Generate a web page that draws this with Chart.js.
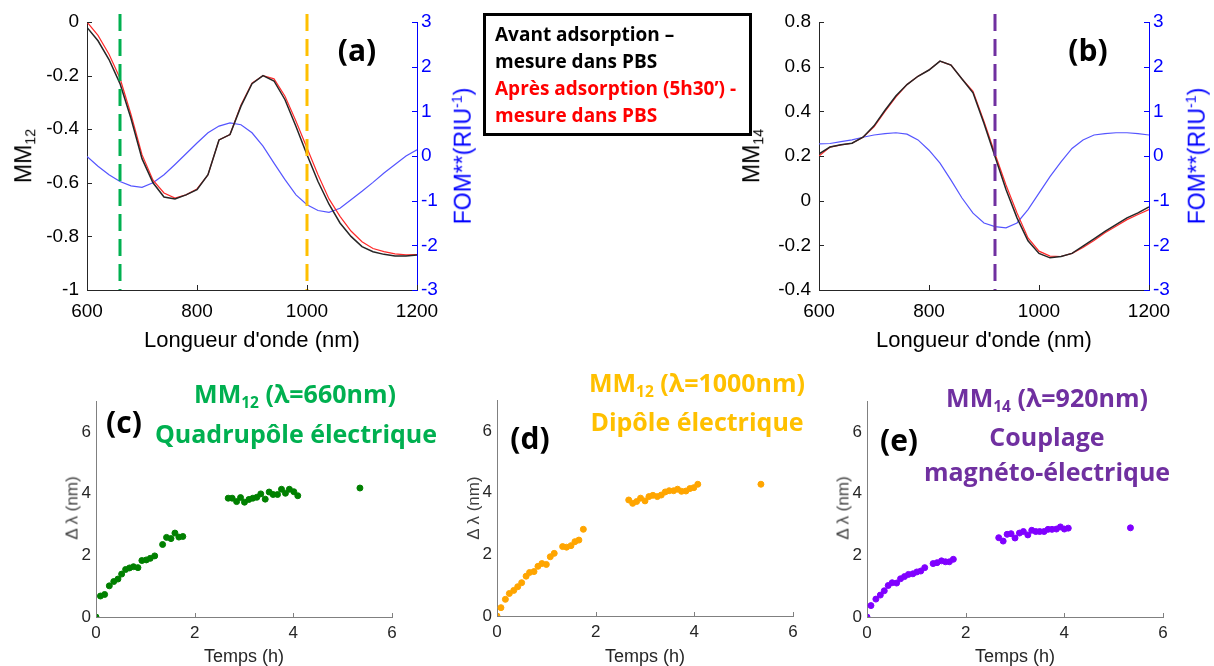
<!DOCTYPE html>
<html>
<head>
<meta charset="utf-8">
<script src="https://cdn.jsdelivr.net/npm/chart.js@4.4.1/dist/chart.umd.min.js"></script>
<style>
body { margin: 0; width: 1214px; height: 666px; background: #fff; position: relative; overflow: hidden; font-family: "Liberation Sans", Arial, sans-serif; }
canvas { position: absolute; }
.t { position: absolute; white-space: nowrap; line-height: 1; }
.rot { transform: translate(-50%, -50%) rotate(-90deg); }
.ctr { transform: translate(-50%, -50%); }
.bold { font-family: "Open Sans", Lato, sans-serif; font-weight: bold; }
sub { font-size: 62%; vertical-align: -0.3em; }
sup { font-size: 62%; vertical-align: 0.6em; }
#legend { position: absolute; left: 483px; top: 13px; width: 263px; height: 117px; border: 3px solid #000; }
#legend div { position: absolute; left: 9px; font-size: 19px; white-space: nowrap; line-height: 1; }
</style>
</head>
<body>

<canvas id="chartA" width="500" height="360" style="left:0;top:0"></canvas>
<canvas id="chartB" width="500" height="360" style="left:732px;top:0"></canvas>
<canvas id="chartC" width="370" height="296" style="left:40px;top:370px"></canvas>
<canvas id="chartD" width="370" height="296" style="left:441px;top:369px"></canvas>
<canvas id="chartE" width="370" height="296" style="left:811px;top:370px"></canvas>

<!-- titres des axes (a) et (b) -->
<div class="t rot" style="left:25px;top:156px;font-size:23px">MM<sub>12</sub></div>
<div class="t ctr" style="left:252px;top:340px;font-size:22px">Longueur d'onde (nm)</div>
<div class="t rot" style="left:462px;top:156px;font-size:23px;color:#0000ff">FOM**(RIU<sup>-1</sup>)</div>
<div class="t rot" style="left:753px;top:156px;font-size:23px">MM<sub>14</sub></div>
<div class="t ctr" style="left:984px;top:340px;font-size:22px">Longueur d'onde (nm)</div>
<div class="t rot" style="left:1196px;top:156px;font-size:23px;color:#0000ff">FOM**(RIU<sup>-1</sup>)</div>
<div class="t ctr bold" style="left:357px;top:50px;font-size:30px">(a)</div>
<div class="t ctr bold" style="left:1088px;top:50px;font-size:30px">(b)</div>

<div id="legend" class="bold">
  <div style="top:9px">Avant adsorption –</div>
  <div style="top:36px">mesure dans PBS</div>
  <div style="top:63px;color:#ff0000">Après adsorption (5h30’) -</div>
  <div style="top:90px;color:#ff0000">mesure dans PBS</div>
</div>

<!-- titres des panneaux (c) (d) (e) -->
<div class="t ctr bold" style="left:295px;top:396px;font-size:25px;color:#00b050">MM<sub>12</sub> (λ=660nm)</div>
<div class="t ctr bold" style="left:296px;top:433px;font-size:25px;color:#00b050">Quadrupôle électrique</div>
<div class="t ctr bold" style="left:124px;top:422px;font-size:30px">(c)</div>
<div class="t ctr bold" style="left:697px;top:385px;font-size:25px;color:#ffc000">MM<sub>12</sub> (λ=1000nm)</div>
<div class="t ctr bold" style="left:697px;top:421px;font-size:25px;color:#ffc000">Dipôle électrique</div>
<div class="t ctr bold" style="left:530px;top:438px;font-size:30px">(d)</div>
<div class="t ctr bold" style="left:1047px;top:400px;font-size:25px;color:#7030a0">MM<sub>14</sub> (λ=920nm)</div>
<div class="t ctr bold" style="left:1047px;top:436px;font-size:25px;color:#7030a0">Couplage</div>
<div class="t ctr bold" style="left:1047px;top:471px;font-size:25px;color:#7030a0">magnéto-électrique</div>
<div class="t ctr bold" style="left:899px;top:440px;font-size:30px">(e)</div>

<div class="t rot" style="left:72px;top:508px;font-size:17px;color:#404040">Δ λ (nm)</div>
<div class="t ctr" style="left:244px;top:656px;font-size:18px;color:#262626">Temps (h)</div>
<div class="t rot" style="left:473px;top:508px;font-size:17px;color:#404040">Δ λ (nm)</div>
<div class="t ctr" style="left:645px;top:656px;font-size:18px;color:#262626">Temps (h)</div>
<div class="t rot" style="left:843px;top:508px;font-size:17px;color:#404040">Δ λ (nm)</div>
<div class="t ctr" style="left:1015px;top:656px;font-size:18px;color:#262626">Temps (h)</div>

<script>
// Longueurs d'onde (nm)
const wavelengths = [600,620,640,660,680,700,720,740,760,780,800,820,840,860,880,900,920,940,960,980,1000,1020,1040,1060,1080,1100,1120,1140,1160,1180,1200];

// (a) MM12 et FOM
const mm12Avant = [-0.02,-0.07,-0.14,-0.23,-0.36,-0.51,-0.60,-0.653,-0.66,-0.645,-0.626,-0.57,-0.44,-0.42,-0.314,-0.23,-0.20,-0.22,-0.29,-0.39,-0.495,-0.595,-0.68,-0.75,-0.80,-0.838,-0.857,-0.867,-0.873,-0.873,-0.869];
const mm12Apres = [0.0,-0.05,-0.12,-0.21,-0.345,-0.495,-0.59,-0.638,-0.657,-0.645,-0.623,-0.57,-0.44,-0.42,-0.31,-0.228,-0.20,-0.212,-0.277,-0.37,-0.47,-0.57,-0.66,-0.725,-0.78,-0.82,-0.845,-0.857,-0.865,-0.869,-0.868];
const fom12 = [-0.01,-0.23,-0.42,-0.57,-0.67,-0.70,-0.60,-0.42,-0.19,0.05,0.29,0.52,0.67,0.74,0.70,0.52,0.22,-0.16,-0.53,-0.87,-1.09,-1.22,-1.26,-1.17,-0.98,-0.79,-0.59,-0.38,-0.19,0.0,0.14];

// (b) MM14 et FOM
const mm14Avant = [0.21,0.24,0.25,0.257,0.284,0.335,0.405,0.47,0.52,0.557,0.585,0.625,0.607,0.545,0.483,0.346,0.198,0.05,-0.077,-0.18,-0.236,-0.256,-0.25,-0.236,-0.204,-0.171,-0.137,-0.107,-0.077,-0.055,-0.028];
const mm14Apres = [0.20,0.24,0.25,0.257,0.284,0.33,0.40,0.465,0.52,0.557,0.585,0.625,0.607,0.545,0.49,0.355,0.21,0.07,-0.055,-0.167,-0.226,-0.248,-0.25,-0.236,-0.21,-0.178,-0.144,-0.115,-0.085,-0.062,-0.04];
const fom14 = [0.27,0.28,0.32,0.36,0.42,0.47,0.50,0.52,0.49,0.36,0.13,-0.16,-0.54,-0.94,-1.28,-1.50,-1.58,-1.61,-1.50,-1.20,-0.83,-0.46,-0.13,0.17,0.36,0.47,0.50,0.52,0.52,0.50,0.47];

// (c) MM12 à 660 nm
const tempsC = [0,0.09,0.175,0.27,0.36,0.445,0.52,0.6,0.68,0.76,0.85,0.93,1.02,1.1,1.19,1.35,1.43,1.52,1.6,1.68,1.76,2.68,2.76,2.85,2.93,3.01,3.1,3.18,3.26,3.34,3.43,3.51,3.59,3.68,3.76,3.84,3.92,4.01,4.09,5.35];
const shiftC = [0,0.68,0.73,1.01,1.15,1.23,1.39,1.54,1.59,1.63,1.6,1.83,1.85,1.9,1.98,2.35,2.58,2.54,2.72,2.59,2.61,3.85,3.85,3.74,3.87,3.72,3.81,3.85,3.88,3.99,3.82,4.05,3.97,3.97,4.14,4.01,4.14,4.06,3.93,4.18];

// (d) MM12 à 1000 nm
const tempsD = [0,0.08,0.17,0.25,0.34,0.42,0.5,0.59,0.66,0.75,0.83,0.91,1.0,1.08,1.16,1.33,1.41,1.5,1.58,1.66,1.75,2.67,2.75,2.83,2.91,3.0,3.08,3.16,3.25,3.33,3.41,3.49,3.58,3.66,3.74,3.83,3.91,3.99,4.07,5.35];
const shiftD = [0,0.27,0.54,0.73,0.83,0.95,1.08,1.29,1.41,1.44,1.61,1.7,1.67,1.92,2.03,2.25,2.23,2.28,2.41,2.46,2.81,3.76,3.65,3.71,3.82,3.73,3.87,3.91,3.87,3.92,4.02,4.06,4.06,4.11,4.04,4.05,4.13,4.16,4.27,4.27];

// (e) MM14 à 920 nm
const tempsE = [0,0.08,0.18,0.27,0.35,0.43,0.51,0.6,0.68,0.76,0.84,0.93,1.01,1.09,1.17,1.34,1.42,1.51,1.59,1.67,1.75,2.67,2.76,2.84,2.92,3.0,3.09,3.17,3.26,3.34,3.42,3.5,3.59,3.67,3.75,3.84,3.92,4.0,4.08,5.34];
const shiftE = [0,0.37,0.58,0.71,0.85,1.02,1.11,1.1,1.24,1.31,1.38,1.4,1.46,1.49,1.6,1.73,1.76,1.82,1.79,1.79,1.87,2.57,2.46,2.68,2.7,2.56,2.72,2.77,2.66,2.81,2.77,2.77,2.77,2.84,2.84,2.85,2.92,2.85,2.88,2.89];

const xy = (xs, ys) => xs.map((x, i) => ({ x: x, y: ys[i] }));

// petits traits de graduation vers l'intérieur
const inTicks = {
  id: 'inTicks',
  afterDraw(chart, args, opts) {
    const ctx = chart.ctx;
    (opts.axes || []).forEach(a => {
      const s = chart.scales[a.id];
      ctx.save();
      ctx.strokeStyle = a.color;
      ctx.lineWidth = 1;
      s.ticks.forEach(t => {
        const p = Math.round(s.getPixelForValue(t.value)) + 0.5;
        ctx.beginPath();
        if (a.side === 'bottom') { ctx.moveTo(p, s.top); ctx.lineTo(p, s.top - a.len); }
        else if (a.side === 'left') { ctx.moveTo(s.right, p); ctx.lineTo(s.right + a.len, p); }
        else { ctx.moveTo(s.left, p); ctx.lineTo(s.left - a.len, p); }
        ctx.stroke();
      });
      ctx.restore();
    });
  }
};

// lignes verticales en tirets aux longueurs d'onde étudiées
const markers = {
  id: 'markers',
  afterDatasetsDraw(chart, args, opts) {
    const ctx = chart.ctx;
    const ca = chart.chartArea;
    (opts.lines || []).forEach(m => {
      const px = chart.scales.x.getPixelForValue(m.value);
      ctx.save();
      ctx.strokeStyle = m.color;
      ctx.lineWidth = 3;
      ctx.setLineDash([17, 8]);
      ctx.beginPath();
      ctx.moveTo(px, ca.top - 8);
      ctx.lineTo(px, ca.bottom);
      ctx.stroke();
      ctx.restore();
    });
  }
};

function spectrumChart(id, ymin, ymax, avant, apres, fom, lines) {
  return new Chart(document.getElementById(id), {
    type: 'line',
    data: {
      datasets: [
        { data: xy(wavelengths, avant), borderColor: '#262626', borderWidth: 1.5, yAxisID: 'y' },
        { data: xy(wavelengths, apres), borderColor: '#ff2a2a', borderWidth: 1.2, yAxisID: 'y' },
        { data: xy(wavelengths, fom), borderColor: '#5555ff', borderWidth: 1.2, yAxisID: 'y2' }
      ]
    },
    options: {
      responsive: false,
      animation: false,
      layout: { padding: { top: 22, left: 0, right: 0, bottom: 0 } },
      elements: { point: { radius: 0 }, line: { tension: 0 } },
      plugins: {
        legend: { display: false },
        tooltip: { enabled: false },
        markers: { lines: lines },
        inTicks: { axes: [
          { id: 'x', side: 'bottom', len: 5, color: '#262626' },
          { id: 'y', side: 'left', len: 5, color: '#262626' },
          { id: 'y2', side: 'right', len: 5, color: '#0000ff' }
        ] }
      },
      scales: {
        x: {
          type: 'linear', min: 600, max: 1200,
          ticks: { stepSize: 200, color: '#000', font: { size: 19 }, padding: 10, maxRotation: 0,
            callback: v => String(v) },
          grid: { display: false, drawTicks: false },
          border: { color: '#262626', width: 1 },
          afterFit: s => { s.height = 70; }
        },
        y: {
          position: 'left', min: ymin, max: ymax,
          ticks: { stepSize: 0.2, color: '#000', font: { size: 19 }, padding: 8,
            callback: v => String(Math.round(v * 10) / 10) },
          grid: { display: false, drawTicks: false },
          border: { color: '#262626', width: 1 },
          afterFit: s => { s.width = 87; }
        },
        y2: {
          position: 'right', min: -3, max: 3,
          ticks: { stepSize: 1, color: '#0000ff', font: { size: 19 }, padding: 4 },
          grid: { display: false, drawTicks: false },
          border: { color: '#0000ff', width: 1 },
          afterFit: s => { s.width = 83; }
        }
      }
    },
    plugins: [markers, inTicks]
  });
}

function shiftChart(id, temps, shift, color) {
  return new Chart(document.getElementById(id), {
    type: 'scatter',
    data: {
      datasets: [{ data: xy(temps, shift), backgroundColor: color, borderColor: color, pointRadius: 3 }]
    },
    options: {
      responsive: false,
      animation: false,
      layout: { padding: { top: 31, left: 0, right: 18, bottom: 0 } },
      plugins: {
        legend: { display: false },
        tooltip: { enabled: false },
        inTicks: { axes: [ { id: 'x', side: 'bottom', len: 4, color: '#808080' } ] }
      },
      scales: {
        x: {
          min: 0, max: 6,
          ticks: { stepSize: 2, color: '#262626', font: { size: 17 }, padding: 6, maxRotation: 0 },
          grid: { display: false, drawTicks: false },
          border: { color: '#808080', width: 1 },
          afterFit: s => { s.height = 49; }
        },
        y: {
          min: 0, max: 7,
          ticks: { stepSize: 2, color: '#262626', font: { size: 17 }, padding: 5 },
          afterBuildTicks: s => { s.ticks = s.ticks.filter(t => t.value % 2 === 0); },
          grid: { display: false, drawTicks: false },
          border: { color: '#808080', width: 1 },
          afterFit: s => { s.width = 56; }
        }
      }
    },
    plugins: [inTicks]
  });
}

spectrumChart('chartA', -1, 0, mm12Avant, mm12Apres, fom12,
  [{ value: 660, color: '#00b050' }, { value: 1000, color: '#ffc000' }]);
spectrumChart('chartB', -0.4, 0.8, mm14Avant, mm14Apres, fom14,
  [{ value: 920, color: '#7030a0' }]);
shiftChart('chartC', tempsC, shiftC, '#008000');
shiftChart('chartD', tempsD, shiftD, '#ffa500');
shiftChart('chartE', tempsE, shiftE, '#8000ff');
</script>
</body>
</html>
